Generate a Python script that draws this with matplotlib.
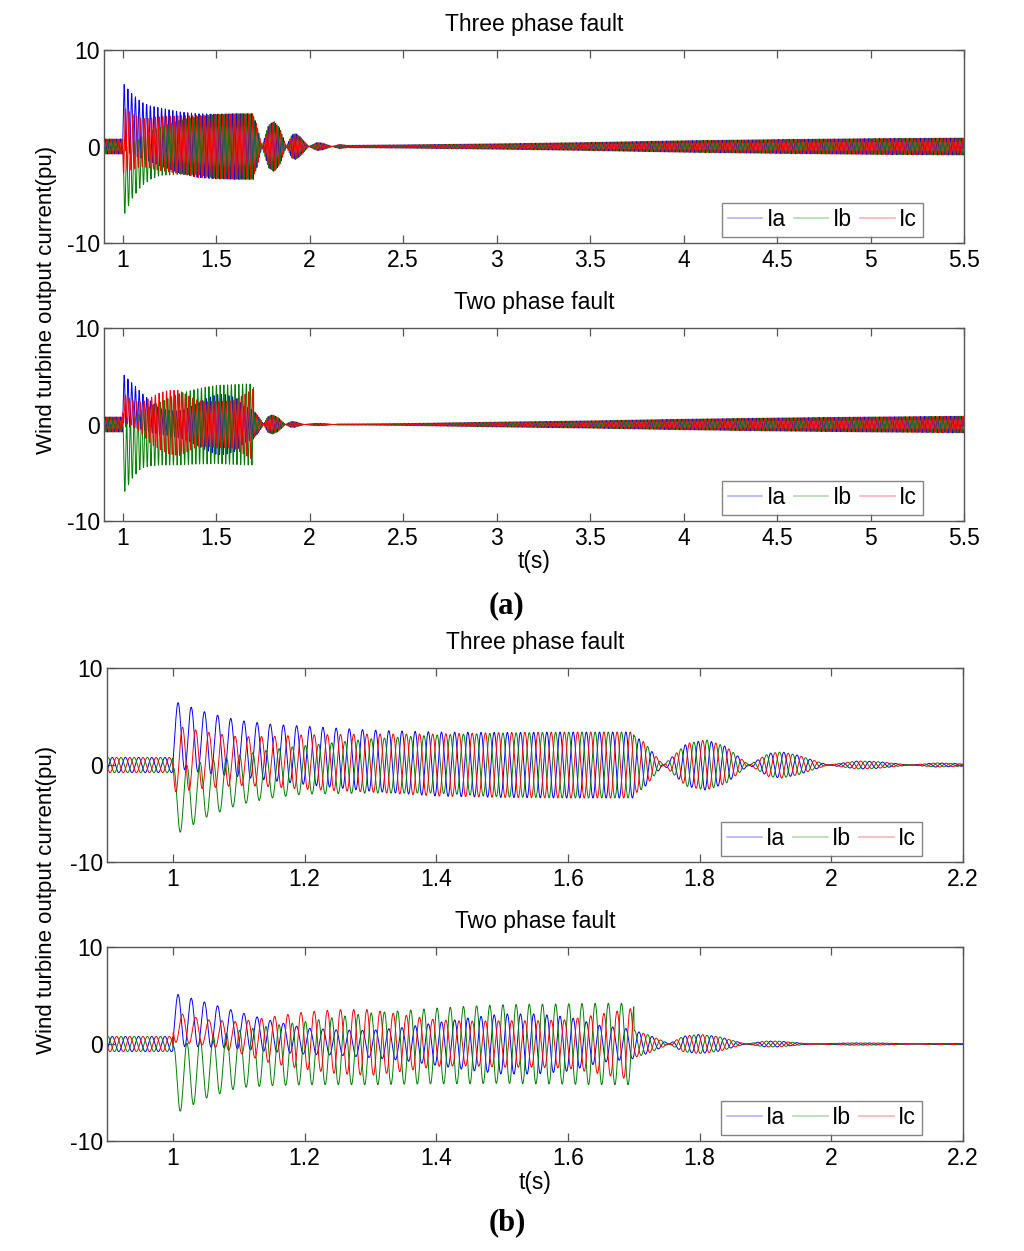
import numpy as np
import matplotlib
matplotlib.use("Agg")
import matplotlib.pyplot as plt
from matplotlib.lines import Line2D

# ---------------- data ----------------
FREQ_HZ = 50.0
T_START, T_END, DT = 0.9, 5.5, 0.0004
T_PEAK_A = 1.008                      # phase reference of Ia

PRE_T = [0.9, 1.0]                    # pre-fault steady state
PRE_AMP = [0.78, 0.78]

# three phase fault, 1.0 s - 1.7 s : AC amplitude / DC offset per phase
TP_FAULT_T = [1.0005, 1.05, 1.1, 1.15, 1.2, 1.3, 1.4, 1.5, 1.6, 1.7]
TP_IA_AMP = [3.45, 3.15, 2.9, 2.9, 3.0, 3.15, 3.3, 3.35, 3.4, 3.4]
TP_IA_DC = [3.15, 2.3, 1.7, 1.3, 1.0, 0.45, 0.1, 0.0, 0.0, 0.0]
TP_IB_AMP = [3.5, 2.9, 2.55, 2.5, 2.5, 2.8, 3.0, 3.3, 3.4, 3.4]
TP_IB_DC = [-3.85, -2.5, -1.55, -0.9, -0.5, -0.1, 0.1, 0.0, 0.0, 0.0]
TP_IC_AMP = [3.45, 2.9, 2.5, 2.6, 2.8, 3.0, 3.2, 3.35, 3.4, 3.4]
TP_IC_DC = [0.65, 0.5, 0.4, 0.35, 0.3, 0.2, 0.0, 0.0, 0.0, 0.0]
# after clearing: signed (beating) envelope, common to all phases
TP_POST_T = [1.7005, 1.715, 1.745, 1.78, 1.81, 1.84, 1.875, 1.905, 1.925, 1.95,
             1.995, 2.04, 2.07, 2.12, 2.16, 2.2, 2.5, 3.0, 3.5, 4.0, 4.5, 5.0, 5.5]
TP_POST_AMP = [3.0, 2.4, 0.0, -2.2, -2.6, -1.9, 0.0, 1.2, 1.35, 1.0,
               0.0, -0.42, -0.35, 0.0, 0.22, 0.12, 0.17, 0.28, 0.42, 0.6, 0.72, 0.82, 0.88]

# two phase fault
TW_FAULT_T = [1.0005, 1.05, 1.1, 1.15, 1.2, 1.25, 1.3, 1.35, 1.4, 1.45, 1.5, 1.55, 1.6, 1.65, 1.7]
TW_IA_AMP = [2.75, 2.3, 1.9, 1.6, 1.35, 1.3, 1.4, 1.7, 2.2, 2.7, 3.1, 3.1, 2.8, 1.9, 1.5]
TW_IA_DC = [2.5, 2.0, 1.4, 0.8, 0.3, 0.15, 0.0, 0.0, 0.0, 0.0, 0.0, 0.0, 0.0, 0.0, 0.0]
TW_IB_AMP = [3.5, 3.1, 2.95, 3.1, 3.25, 3.5, 3.7, 3.8, 3.9, 4.0, 4.05, 4.1, 4.15, 4.2, 4.2]
TW_IB_DC = [-3.8, -2.5, -1.55, -1.2, -0.95, -0.7, -0.5, -0.35, -0.2, -0.1, 0.0, 0.0, 0.0, 0.0, 0.0]
TW_IC_AMP = [1.55, 1.3, 1.6, 2.4, 2.95, 3.3, 3.4, 2.9, 2.4, 2.3, 2.4, 2.4, 2.5, 3.1, 3.7]
TW_IC_DC = [1.75, 1.2, 0.7, 0.4, 0.35, 0.25, 0.15, 0.1, 0.1, 0.05, 0.0, 0.0, 0.0, 0.0, 0.0]
TW_POST_T = [1.7005, 1.72, 1.745, 1.775, 1.80, 1.83, 1.87, 1.90, 1.92, 1.97,
             2.03, 2.08, 2.15, 2.3, 2.5, 3.0, 3.5, 4.0, 4.5, 5.0, 5.5]
TW_POST_AMP = [1.4, 1.0, 0.3, -0.8, -1.0, -0.75, 0.0, 0.3, 0.3, 0.0,
               -0.12, -0.1, 0.05, 0.06, 0.1, 0.25, 0.38, 0.55, 0.68, 0.78, 0.86]

PHASE_NAMES = ["Ia", "Ib", "Ic"]
PHASE_SHIFT_DEG = [0.0, 120.0, -120.0]
COLORS = ["#0000ff", "#008000", "#ff0000"]

A_XTICKS = [1, 1.5, 2, 2.5, 3, 3.5, 4, 4.5, 5, 5.5]
A_XLABELS = ["1", "1.5", "2", "2.5", "3", "3.5", "4", "4.5", "5", "5.5"]
B_XTICKS = [1, 1.2, 1.4, 1.6, 1.8, 2, 2.2]
B_XLABELS = ["1", "1.2", "1.4", "1.6", "1.8", "2", "2.2"]
YTICKS = [-10, 0, 10]
YLABELS = ["-10", "0", "10"]
TITLES = ["Three phase fault", "Two phase fault"]

# ---------------- build waveforms ----------------
t = np.arange(T_START, T_END + DT / 2, DT)
theta = 2 * np.pi * FREQ_HZ * (t - T_PEAK_A)


def phase_current(fault_t, amp, dc, post_t, post_amp, shift_deg):
    env_t = PRE_T + fault_t + post_t
    env_a = PRE_AMP + amp + post_amp
    a = np.interp(t, env_t, env_a)
    d = np.interp(t, [1.0] + fault_t + [1.7005], [0.0] + dc + [0.0])
    return d + a * np.cos(theta + np.deg2rad(shift_deg))


three_phase = [
    phase_current(TP_FAULT_T, TP_IA_AMP, TP_IA_DC, TP_POST_T, TP_POST_AMP, PHASE_SHIFT_DEG[0]),
    phase_current(TP_FAULT_T, TP_IB_AMP, TP_IB_DC, TP_POST_T, TP_POST_AMP, PHASE_SHIFT_DEG[1]),
    phase_current(TP_FAULT_T, TP_IC_AMP, TP_IC_DC, TP_POST_T, TP_POST_AMP, PHASE_SHIFT_DEG[2]),
]
two_phase = [
    phase_current(TW_FAULT_T, TW_IA_AMP, TW_IA_DC, TW_POST_T, TW_POST_AMP, PHASE_SHIFT_DEG[0]),
    phase_current(TW_FAULT_T, TW_IB_AMP, TW_IB_DC, TW_POST_T, TW_POST_AMP, PHASE_SHIFT_DEG[1]),
    phase_current(TW_FAULT_T, TW_IC_AMP, TW_IC_DC, TW_POST_T, TW_POST_AMP, PHASE_SHIFT_DEG[2]),
]

# ---------------- figure ----------------
plt.rcParams["font.family"] = ["Liberation Sans", "DejaVu Sans"]
W, H = 1024, 1251
fig = plt.figure(figsize=(W / 100, H / 100), dpi=100)
SPINE = "#555555"
FS = 16.5


def px_axes(x0, x1, y0, y1):
    return fig.add_axes([x0 / W, 1 - y1 / H, (x1 - x0) / W, (y1 - y0) / H])


def style(ax, xlim, xticks, xlabels, title, series):
    for y, c, name in zip(series, COLORS, PHASE_NAMES):
        ax.plot(t, y, color=c, lw=0.7, label=name)
    ax.set_xlim(*xlim)
    ax.set_ylim(-10, 10)
    ax.set_xticks(xticks)
    ax.set_xticklabels(xlabels)
    ax.set_yticks(YTICKS)
    ax.set_yticklabels(YLABELS)
    ax.tick_params(direction="in", top=True, right=True, length=6, width=0.9,
                   color=SPINE, labelsize=FS)
    ax.tick_params(axis="x", pad=4.5)
    ax.tick_params(axis="y", pad=3)
    for s in ax.spines.values():
        s.set_color(SPINE)
        s.set_linewidth(1.0)
    ax.set_title(title, fontsize=FS, pad=13.5)
    handles = [Line2D([], [], color=c, lw=1.2, alpha=0.3) for c in COLORS]
    leg = ax.legend(handles, PHASE_NAMES, ncol=3, loc="lower right",
                    bbox_to_anchor=(0.952, 0.03), bbox_transform=ax.transAxes,
                    fontsize=FS, frameon=True, fancybox=False, borderaxespad=0,
                    handlelength=1.5, handletextpad=0.2, columnspacing=0.35,
                    borderpad=0.25)
    leg.get_frame().set_edgecolor("#666666")
    leg.get_frame().set_linewidth(1.0)


ax1 = px_axes(104, 964, 50, 243)
style(ax1, (0.9, 5.5), A_XTICKS, A_XLABELS, TITLES[0], three_phase)
ax2 = px_axes(104, 964, 328, 521)
style(ax2, (0.9, 5.5), A_XTICKS, A_XLABELS, TITLES[1], two_phase)
ax3 = px_axes(107, 963, 668, 862)
style(ax3, (0.9, 2.2), B_XTICKS, B_XLABELS, TITLES[0], three_phase)
ax4 = px_axes(107, 963, 947, 1141)
style(ax4, (0.9, 2.2), B_XTICKS, B_XLABELS, TITLES[1], two_phase)

YLAB = "Wind turbine output current(pu)"
fig.text(47 / W, 1 - 300 / H, YLAB, rotation=90, ha="center", va="center", fontsize=16)
fig.text(47 / W, 1 - 900 / H, YLAB, rotation=90, ha="center", va="center", fontsize=16)
fig.text(534 / W, 1 - 562 / H, "t(s)", ha="center", va="center", fontsize=FS)
fig.text(535 / W, 1 - 1183 / H, "t(s)", ha="center", va="center", fontsize=FS)
fig.text(507 / W, 1 - 606 / H, "(a)", ha="center", va="center", fontsize=22,
         fontweight="bold", family=["Liberation Serif", "DejaVu Serif"])
fig.text(507 / W, 1 - 1223 / H, "(b)", ha="center", va="center", fontsize=22,
         fontweight="bold", family=["Liberation Serif", "DejaVu Serif"])

fig.savefig("out.png", dpi=100)
